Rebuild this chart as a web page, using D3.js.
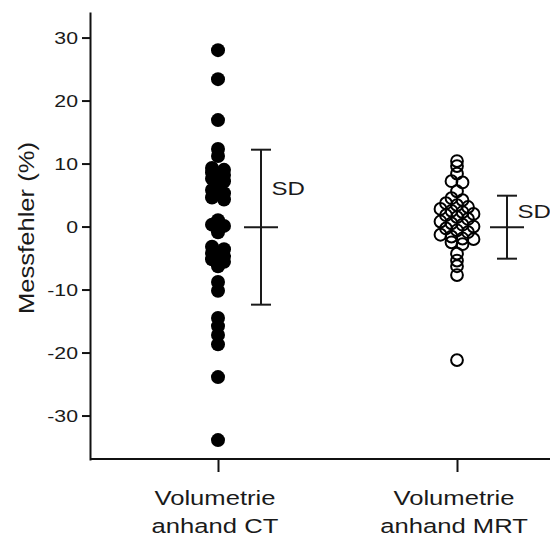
<!DOCTYPE html>
<html>
<head>
<meta charset="utf-8">
<script src="https://cdn.jsdelivr.net/npm/d3@7"></script>
<style>
  html, body { margin: 0; padding: 0; background: #fff; }
  svg { display: block; }
  text { font-family: "Liberation Sans", Arial, sans-serif; fill: #1a1a1a; }
</style>
</head>
<body>
<svg id="chart" width="550" height="538"></svg>
<script>
// Measurement error (%) of volumetry, per imaging method
const categories = ["CT", "MRT"];
const categoryLines = [["Volumetrie", "anhand CT"], ["Volumetrie", "anhand MRT"]];

const ctValues = [
  28.0, 23.4, 16.9, 12.3, 11.2,
  9.3, 9.0, 8.6, 8.2, 7.6, 7.2, 6.5, 5.8, 5.3, 4.6, 4.3,
  1.0, 0.3, 0.1, -0.9,
  -3.2, -3.6, -4.2, -4.7, -5.2, -5.6, -6.3,
  -8.8, -10.2,
  -14.5, -15.8, -17.2, -18.7,
  -23.9, -33.9
];

const mrtValues = [
  10.4, 9.6, 8.4, 7.2, 7.0, 5.6,
  4.5, 4.2,
  3.7, 3.4, 3.1,
  2.8, 2.5, 2.3, 2.0,
  1.8, 1.5, 1.2,
  0.8, 0.5, 0.3, 0.0,
  -0.3, -0.6, -0.9,
  -1.3, -1.6, -1.9, -2.0,
  -2.5, -2.8,
  -4.3, -5.4, -6.3, -7.7,
  -21.2
];

const sdMean = [-0.1, -0.1];
const sdValues = [12.3, 5.0];
const sdLabels = ["SD", "SD"];
const yTicks = [-30, -20, -10, 0, 10, 20, 30];
const yLabel = "Messfehler (%)";

// ---- layout ----
const W = 550, H = 538;
const axisX = 90, axisTop = 13, axisBottom = 459;
const ink = "#111";

const svg = d3.select("#chart");

const y = d3.scaleLinear().domain([-36.9, 33.9]).range([axisBottom, axisTop]);
const x = d3.scalePoint().domain(categories).range([218, 457]);

// stretch text horizontally to the wide lettering of the figure
function widen(sel, factor) {
  sel.each(function () {
    const w = this.getComputedTextLength();
    d3.select(this).attr("textLength", w * factor).attr("lengthAdjust", "spacingAndGlyphs");
  });
}

// Prism-style column scatter: points in the same 1-unit row sit side by side
function columnScatter(values, spacing) {
  const rows = d3.group(values, v => Math.floor(v));
  const out = [];
  for (const [, vs] of rows) {
    const n = vs.length;
    vs.forEach((v, i) => out.push({ v, dx: (i - (n - 1) / 2) * spacing }));
  }
  return out;
}

// y axis
const gy = svg.append("g")
  .attr("transform", `translate(${axisX},0)`)
  .call(d3.axisLeft(y).tickValues(yTicks).tickSize(8).tickSizeOuter(0).tickPadding(4)
    .tickFormat(d => String(d)));
gy.select(".domain").attr("stroke", ink).attr("stroke-width", 2).attr("stroke-linecap", "square");
gy.selectAll(".tick line").attr("stroke", ink).attr("stroke-width", 2);
gy.selectAll(".tick text").attr("font-size", 17).attr("fill", "#1a1a1a")
  .attr("dy", "0.34em")
  .style("font-family", '"Liberation Sans", Arial, sans-serif');
widen(gy.selectAll(".tick text"), 1.25);

// x axis
const gx = svg.append("g")
  .attr("transform", `translate(0,${axisBottom})`)
  .call(d3.axisBottom(x).tickSize(13).tickSizeOuter(0).tickFormat(""));
gx.select(".domain").remove();
gx.selectAll(".tick line").attr("stroke", ink).attr("stroke-width", 2);
gx.append("line")
  .attr("x1", axisX).attr("x2", W)
  .attr("stroke", ink).attr("stroke-width", 2);

// category labels (two lines)
categories.forEach((c, i) => {
  const t = svg.append("text")
    .attr("text-anchor", "middle")
    .attr("font-size", 20.5);
  categoryLines[i].forEach((line, j) => {
    t.append("tspan").attr("x", x(c) - 3).attr("y", 505 + j * 28).text(line);
  });
  widen(t.selectAll("tspan"), 1.25);
});

// y label
const yl = svg.append("text")
  .attr("transform", `translate(34,228) rotate(-90)`)
  .attr("text-anchor", "middle")
  .attr("font-size", 22)
  .text(yLabel);
yl.attr("textLength", 172).attr("lengthAdjust", "spacingAndGlyphs");

// points
const ctPts = columnScatter(ctValues, 12);
svg.append("g").selectAll("circle").data(ctPts).join("circle")
  .attr("cx", d => x("CT") + d.dx)
  .attr("cy", d => y(d.v))
  .attr("r", 7)
  .attr("fill", "#000");

const mrtPts = columnScatter(mrtValues, 11);
svg.append("g").selectAll("circle").data(mrtPts).join("circle")
  .attr("cx", d => x("MRT") + d.dx)
  .attr("cy", d => y(d.v))
  .attr("r", 5.9)
  .attr("fill", "none")
  .attr("stroke", "#000")
  .attr("stroke-width", 2);

// mean ± SD bars
const barOffset = [43, 50];
categories.forEach((c, i) => {
  const bx = x(c) + barOffset[i];
  const top = y(sdMean[i] + sdValues[i]);
  const bot = y(sdMean[i] - sdValues[i]);
  const mid = y(sdMean[i]);
  const g = svg.append("g").attr("stroke", "#1a1a1a").attr("stroke-width", 2);
  g.append("line").attr("x1", bx).attr("x2", bx).attr("y1", top).attr("y2", bot);
  g.append("line").attr("x1", bx - 10).attr("x2", bx + 10).attr("y1", top).attr("y2", top);
  g.append("line").attr("x1", bx - 10).attr("x2", bx + 10).attr("y1", bot).attr("y2", bot);
  g.append("line").attr("x1", bx - 17).attr("x2", bx + 17).attr("y1", mid).attr("y2", mid);
  const t = svg.append("text")
    .attr("x", bx + 10.5)
    .attr("y", (top + mid) / 2 + 6.5)
    .attr("font-size", 18.5)
    .text(sdLabels[i]);
  widen(t, 1.3);
});
</script>
</body>
</html>
